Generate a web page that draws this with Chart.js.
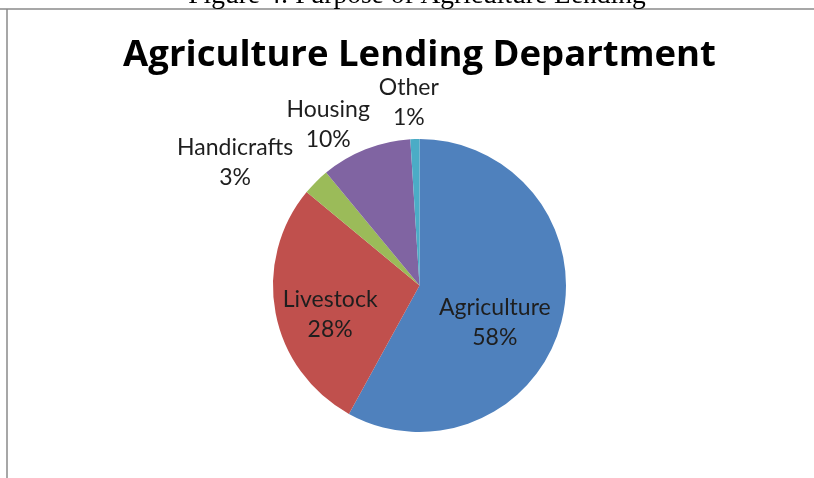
<!DOCTYPE html>
<html><head><meta charset="utf-8">
<script src="https://cdn.jsdelivr.net/npm/chart.js@4/dist/chart.umd.min.js"></script>
<style>html,body{margin:0;padding:0;background:#fff;overflow:hidden;} canvas{display:block;}</style>
</head><body>
<canvas id="c" width="814" height="478" style="width:814px;height:478px"></canvas>
<script>
const categories = ['Agriculture', 'Livestock', 'Handicrafts', 'Housing', 'Other'];
const values = [58, 28, 3, 10, 1];
const sliceColors = ['#4F81BD', '#C0504D', '#9BBB59', '#8064A2', '#4BACC6'];
const chartTitle = 'Agriculture Lending Department';
const captionText = 'Figure 4: Purpose of Agriculture Lending';

// label placement: radial factor of radius + small nudges (layout only)
const labelLayout = [
  { f: 0.573, dx: -6, dy: 16 },
  { f: 0.621, dx: 0, dy: 12 },
  { f: 1.365, dx: -43, dy: 18 },
  { f: 1.229, dx: -25, dy: 6 },
  { f: 1.242, dx: -5, dy: -1 }
];

const framePlugin = {
  id: 'frame',
  beforeDraw(chart) {
    const ctx = chart.ctx;
    ctx.save();
    ctx.fillStyle = '#fff';
    ctx.fillRect(0, 0, chart.width, chart.height);
    ctx.strokeStyle = '#8a8a8a';
    ctx.lineWidth = 1.5;
    ctx.beginPath();
    ctx.moveTo(0, 9); ctx.lineTo(chart.width, 9);
    ctx.moveTo(7, 9); ctx.lineTo(7, chart.height);
    ctx.stroke();
    ctx.fillStyle = '#000';
    ctx.font = '27.5px "Liberation Serif", "Times New Roman", serif';
    ctx.textAlign = 'center';
    ctx.textBaseline = 'alphabetic';
    ctx.fillText(captionText, 417, 3);
    ctx.restore();
  }
};

const labelPlugin = {
  id: 'sliceLabels',
  afterDatasetsDraw(chart) {
    const ctx = chart.ctx;
    const meta = chart.getDatasetMeta(0);
    const total = values.reduce((a, b) => a + b, 0);
    ctx.save();
    ctx.fillStyle = '#1e1e1e';
    ctx.font = '23px Lato, "Open Sans", sans-serif';
    ctx.textAlign = 'center';
    ctx.textBaseline = 'middle';
    meta.data.forEach((arc, i) => {
      const p = arc.getProps(['x', 'y', 'startAngle', 'endAngle', 'outerRadius'], true);
      const mid = (p.startAngle + p.endAngle) / 2;
      const L = labelLayout[i];
      const r = p.outerRadius * L.f;
      const cx = p.x + Math.cos(mid) * r + L.dx;
      const cy = p.y + Math.sin(mid) * r + L.dy;
      const pct = Math.round(values[i] / total * 100) + '%';
      ctx.fillText(categories[i], cx, cy - 15);
      ctx.fillText(pct, cx, cy + 15);
    });
    ctx.restore();
  }
};

new Chart(document.getElementById('c'), {
  type: 'pie',
  data: {
    labels: categories,
    datasets: [{
      data: values,
      backgroundColor: sliceColors,
      borderWidth: 0
    }]
  },
  options: {
    responsive: false,
    animation: false,
    layout: { padding: { left: 25, right: 0, top: 0, bottom: 46 } },
    plugins: {
      legend: { display: false },
      tooltip: { enabled: false },
      title: {
        display: true,
        text: chartTitle,
        color: '#000',
        font: { family: '"Open Sans", Lato, sans-serif', size: 36.5, weight: 'bold', lineHeight: 1.2 },
        padding: { top: 33.6, bottom: 61.6 }
      }
    }
  },
  plugins: [framePlugin, labelPlugin]
});
</script>
</body></html>
